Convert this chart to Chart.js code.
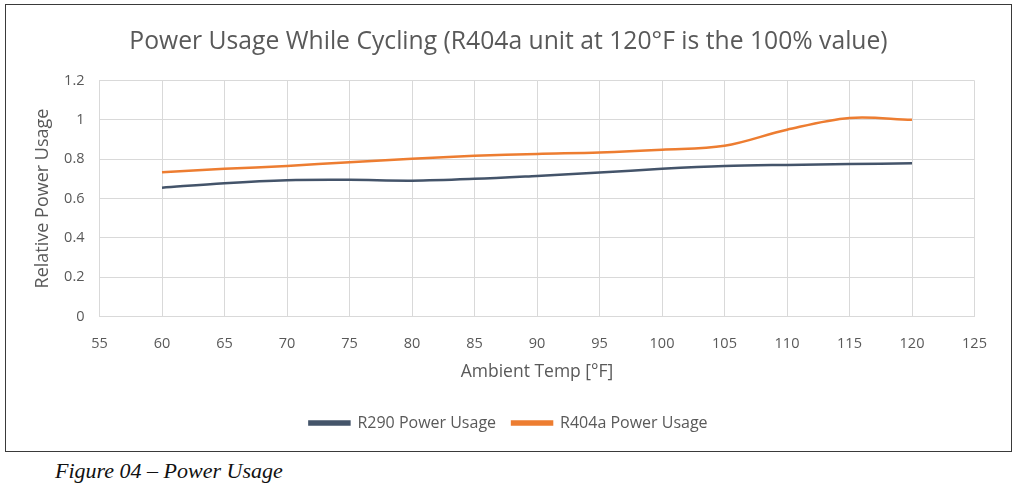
<!DOCTYPE html>
<html><head><meta charset="utf-8">
<script src="https://cdn.jsdelivr.net/npm/chart.js@4"></script>
<style>
html,body{margin:0;padding:0;background:#fff;width:1024px;height:487px;overflow:hidden}
#box{position:absolute;left:5px;top:4px;width:1005px;height:446px;border:1.5px solid #3a3a3a;}
#wrap{position:absolute;left:0;top:0;width:1005px;height:446px}
#cap{position:absolute;left:55px;top:458px;font-family:"Liberation Serif",serif;font-style:italic;font-size:22px;color:#111}
</style></head><body>
<div id="box"><div id="wrap"><canvas id="c"></canvas></div></div>
<div id="cap">Figure 04 – Power Usage</div>
<script>
const temps = [60,65,70,75,80,85,90,95,100,105,110,115,120];
const r290 = [0.655,0.678,0.693,0.695,0.691,0.700,0.715,0.732,0.751,0.765,0.771,0.775,0.780];
const r404a = [0.734,0.751,0.766,0.785,0.802,0.817,0.827,0.834,0.848,0.868,0.950,1.010,1.000];
const xTicks = [55,60,65,70,75,80,85,90,95,100,105,110,115,120,125];
const yTicks = [0,0.2,0.4,0.6,0.8,1,1.2];
const FONT = "Open Sans";
const TXT = "#595959";
const pts = (ys)=>temps.map((t,i)=>({x:t,y:ys[i]}));
new Chart(document.getElementById('c'),{
  type:'scatter',
  data:{datasets:[
    {label:'R290 Power Usage',data:pts(r290),showLine:true,borderColor:'#44546A',backgroundColor:'#44546A',borderWidth:2.5,pointRadius:0,tension:0.35},
    {label:'R404a Power Usage',data:pts(r404a),showLine:true,borderColor:'#ED7D31',backgroundColor:'#ED7D31',borderWidth:2.5,pointRadius:0,tension:0.35}
  ]},
  options:{
    responsive:true,maintainAspectRatio:false,animation:false,
    layout:{padding:{left:36.5,right:36.5,top:0,bottom:10}},
    plugins:{
      title:{display:true,text:'Power Usage While Cycling (R404a unit at 120°F is the 100% value)',color:TXT,font:{family:FONT,size:24.7,weight:'normal'},padding:{top:21.7,bottom:24.2}},
      legend:{position:'bottom',labels:{boxWidth:40,boxHeight:3,color:TXT,font:{family:FONT,size:16},padding:16},onClick:null},
      tooltip:{enabled:false}
    },
    scales:{
      x:{type:'linear',min:55,max:125,
        afterBuildTicks:(ax)=>{ax.ticks=xTicks.map(v=>({value:v}));},
        afterFit:(ax)=>{ax.height=82.5;},
        grid:{color:'#d9d9d9',lineWidth:1,drawTicks:false},border:{color:'#d9d9d9'},
        ticks:{color:TXT,font:{family:FONT,size:14.5},padding:19,maxRotation:0},
        title:{display:true,text:'Ambient Temp [°F]',color:TXT,font:{family:FONT,size:17.5},padding:{top:0,bottom:16.3}}},
      y:{min:0,max:1.2,
        afterBuildTicks:(ax)=>{ax.ticks=yTicks.map(v=>({value:v}));},
        afterFit:(ax)=>{ax.width=57;},
        grid:{color:'#d9d9d9',lineWidth:1,drawTicks:false},border:{color:'#d9d9d9'},
        ticks:{color:TXT,font:{family:FONT,size:14.5},padding:15,callback:(v)=>String(Math.round(v*10)/10)},
        title:{display:true,text:'Relative Power Usage',color:TXT,font:{family:FONT,size:18},padding:{top:-10.8,bottom:0}}}
    }
  }
});
</script>
</body></html>
